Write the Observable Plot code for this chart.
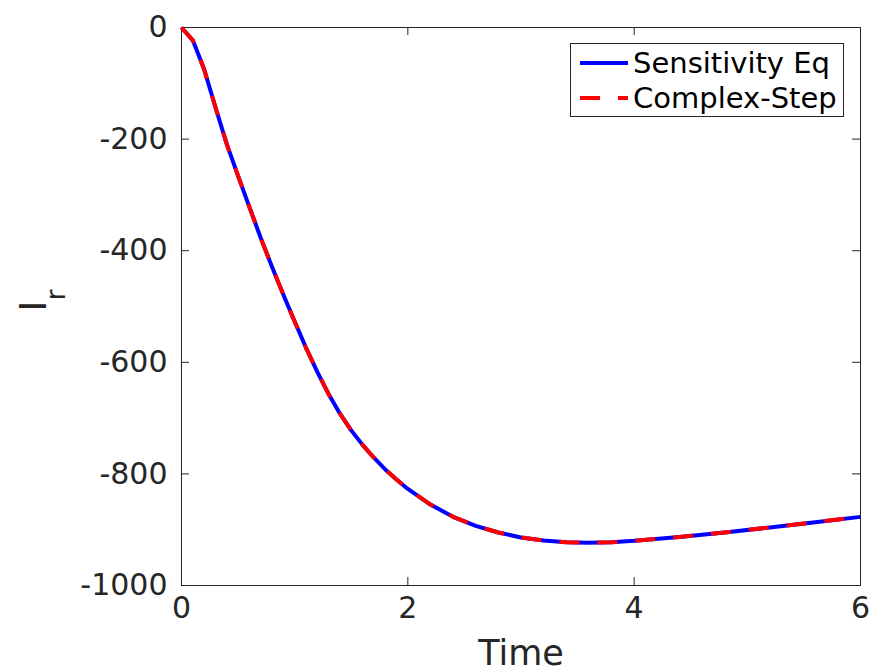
<!DOCTYPE html>
<html><head><meta charset="utf-8">
<script src="https://cdn.jsdelivr.net/npm/d3@7"></script>
<script src="https://cdn.jsdelivr.net/npm/@observablehq/plot@0.6"></script>
<style>
html,body{margin:0;padding:0;background:#fff;}
#wrap{position:relative;width:883px;height:671px;}
</style></head><body><div id="wrap"></div>
<script>
// ---- data ----
const time = [0,0.1,0.2,0.3,0.4,0.5,0.6,0.7,0.8,0.9,1.0,1.1,1.2,1.3,1.4,1.5,1.6,1.7,1.8,1.9,2.0,2.2,2.4,2.6,2.8,3.0,3.2,3.4,3.6,3.8,4.0,4.4,4.8,5.2,5.6,6.0];
const sensitivityEq = [0,-23,-75,-143,-209,-266,-322,-377,-429,-479,-527,-574,-617,-657,-692,-722,-748,-771,-792,-810,-827,-855,-877,-893,-905,-914,-919.5,-922.5,-923.5,-922.5,-920,-913,-905,-896,-886.5,-877];
const complexStep = [0,-23,-75,-143,-209,-266,-322,-377,-429,-479,-527,-574,-617,-657,-692,-722,-748,-771,-792,-810,-827,-855,-877,-893,-905,-914,-919.5,-922.5,-923.5,-922.5,-920,-913,-905,-896,-886.5,-877];
const seriesNames = ["Sensitivity Eq", "Complex-Step"];
const seriesColors = ["#0000ff", "#ff0000"];
const xTicks = [0, 2, 4, 6];
const yTicks = [-1000, -800, -600, -400, -200, 0];
const xLabel = "Time";
const yLabelMain = "I";
const yLabelSub = "r";

const sensRows = time.map((t, i) => ({t, v: sensitivityEq[i]}));
const csRows = time.map((t, i) => ({t, v: complexStep[i]}));

const W = 883, H = 671, mL = 181, mR = 23, mT = 27, mB = 86;
const pw = W - mL - mR, ph = H - mT - mB;
const font = "'DejaVu Sans', 'Liberation Sans', sans-serif";
const ink = "#262626";

const chart = Plot.plot({
  width: W, height: H,
  marginLeft: mL, marginRight: mR, marginTop: mT, marginBottom: mB,
  style: {fontFamily: font, fontSize: "30px", color: ink, background: "#fff"},
  x: {domain: [0, 6]},
  y: {domain: [-1000, 0]},
  marks: [
    Plot.frame({stroke: ink}),
    Plot.tickY(yTicks, {y: d => d, insetRight: pw - 8, stroke: ink}),
    Plot.tickY(yTicks, {y: d => d, insetLeft: pw - 8, stroke: ink}),
    Plot.tickX(xTicks, {x: d => d, insetTop: ph - 8, stroke: ink}),
    Plot.tickX(xTicks, {x: d => d, insetBottom: ph - 8, stroke: ink}),
    Plot.axisX({ticks: xTicks, tickSize: 0, tickPadding: 11, tickFormat: d => String(d), label: null}),
    Plot.axisY({ticks: yTicks, tickSize: 0, tickPadding: 14, tickFormat: d => String(d), label: null}),
    Plot.line(sensRows, {x: "t", y: "v", stroke: seriesColors[0], strokeWidth: 4, strokeLinecap: "butt"}),
    Plot.line(csRows, {x: "t", y: "v", stroke: seriesColors[1], strokeWidth: 4, strokeDasharray: "20,18", strokeLinecap: "butt"}),
    Plot.text([xLabel], {text: d => d, frameAnchor: "bottom", lineAnchor: "bottom", dy: 79, fontSize: 35, fill: ink}),
    Plot.text([yLabelMain], {text: d => d, frameAnchor: "left", rotate: -90, lineAnchor: "bottom", dx: -136, dy: 5, fontSize: 37, fill: ink}),
    Plot.text([yLabelSub], {text: d => d, frameAnchor: "left", rotate: -90, lineAnchor: "bottom", dx: -117, dy: -6, fontSize: 27, fill: ink})
  ]
});
const wrap = document.getElementById("wrap");
wrap.appendChild(chart);

// legend (overlay)
const leg = d3.create("svg")
  .attr("width", 274).attr("height", 74)
  .style("position", "absolute").style("left", "570px").style("top", "43px");
leg.append("rect").attr("x", 0.5).attr("y", 0.5).attr("width", 273).attr("height", 73)
  .attr("fill", "#fff").attr("stroke", ink);
seriesNames.forEach((name, i) => {
  const y = i === 0 ? 20 : 55;
  leg.append("line").attr("x1", 10).attr("x2", 58).attr("y1", y).attr("y2", y)
    .attr("stroke", seriesColors[i]).attr("stroke-width", 4)
    .attr("stroke-dasharray", i === 1 ? "20,18" : null);
  leg.append("text").attr("x", 63).attr("y", y).attr("dy", "0.36em")
    .attr("font-family", font).attr("font-size", 29).attr("fill", "#000").text(name);
});
wrap.appendChild(leg.node());
</script>
</body></html>
